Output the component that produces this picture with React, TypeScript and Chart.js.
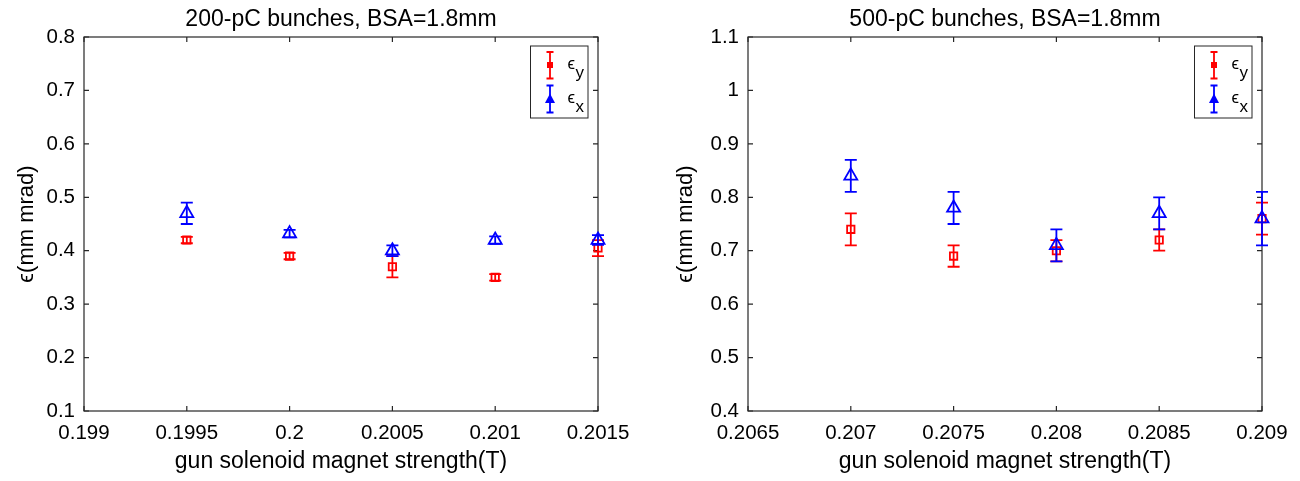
import React, { useEffect, useRef } from "react";
import { Chart, registerables } from "chart.js";

Chart.register(...registerables);

// ---------- data ----------
const titleLeft = "200-pC bunches, BSA=1.8mm";
const titleRight = "500-pC bunches, BSA=1.8mm";
const xTitle = "gun solenoid magnet strength(T)";
const yTitle = "\u03F5(mm mrad)";

const xLeft = [0.1995, 0.2, 0.2005, 0.201, 0.2015];
const eyLeft = [0.42, 0.39, 0.37, 0.35, 0.405];
const eyLeftErr = [0.006, 0.006, 0.02, 0.006, 0.015];
const exLeft = [0.47, 0.432, 0.4, 0.42, 0.42];
const exLeftErr = [0.02, 0.007, 0.01, 0.007, 0.009];
const xTicksLeft = [0.199, 0.1995, 0.2, 0.2005, 0.201, 0.2015];
const yTicksLeft = [0.1, 0.2, 0.3, 0.4, 0.5, 0.6, 0.7, 0.8];

const xRight = [0.207, 0.2075, 0.208, 0.2085, 0.209];
const eyRight = [0.74, 0.69, 0.7, 0.72, 0.76];
const eyRightErr = [0.03, 0.02, 0.02, 0.02, 0.03];
const exRight = [0.84, 0.78, 0.71, 0.77, 0.76];
const exRightErr = [0.03, 0.03, 0.03, 0.03, 0.05];
const xTicksRight = [0.2065, 0.207, 0.2075, 0.208, 0.2085, 0.209];
const yTicksRight = [0.4, 0.5, 0.6, 0.7, 0.8, 0.9, 1, 1.1];

const legendLabels = ["y", "x"];

// ---------- styles ----------
const RED = "#ff0000";
const BLUE = "#0000ff";
const AXIS = "#262626";
const FONT = "'Liberation Sans', Arial, Helvetica, sans-serif";

function fmt(v: number): string {
  return String(parseFloat(Number(v).toFixed(5)));
}

type PanelProps = {
  title: string;
  xs: number[];
  ey: number[];
  eyErr: number[];
  ex: number[];
  exErr: number[];
  xTicks: number[];
  yTicks: number[];
  yAxisWidth: number;
  padRight: number;
  yTitlePad: number;
};

function Panel(p: PanelProps) {
  const ref = useRef<HTMLCanvasElement>(null);

  useEffect(() => {
    const canvas = ref.current;
    if (!canvas) return;
    const errs = [p.eyErr, p.exErr];
    const vals = [p.ey, p.ex];
    const colors = [RED, BLUE];

    const framePlugin = {
      id: "frame",
      beforeDatasetsDraw(chart: any) {
        const { ctx, chartArea, scales } = chart;
        const { left, right, top, bottom } = chartArea;
        ctx.save();
        ctx.strokeStyle = AXIS;
        ctx.lineWidth = 1.2;
        ctx.strokeRect(left, top, right - left, bottom - top);
        ctx.beginPath();
        const tl = 5;
        p.xTicks.forEach((v) => {
          const px = scales.x.getPixelForValue(v);
          ctx.moveTo(px, bottom);
          ctx.lineTo(px, bottom - tl);
          ctx.moveTo(px, top);
          ctx.lineTo(px, top + tl);
        });
        p.yTicks.forEach((v) => {
          const py = scales.y.getPixelForValue(v);
          ctx.moveTo(left, py);
          ctx.lineTo(left + tl, py);
          ctx.moveTo(right, py);
          ctx.lineTo(right - tl, py);
        });
        ctx.stroke();
        ctx.restore();
      },
    };

    const errorPlugin = {
      id: "errorBars",
      beforeDatasetDraw(chart: any, args: any) {
        const i = args.index;
        const { ctx, scales } = chart;
        ctx.save();
        ctx.strokeStyle = colors[i];
        ctx.lineWidth = 1.8;
        ctx.beginPath();
        const cap = 6;
        p.xs.forEach((xv, k) => {
          const px = scales.x.getPixelForValue(xv);
          const t = scales.y.getPixelForValue(vals[i][k] + errs[i][k]);
          const b = scales.y.getPixelForValue(vals[i][k] - errs[i][k]);
          ctx.moveTo(px, t);
          ctx.lineTo(px, b);
          ctx.moveTo(px - cap, t);
          ctx.lineTo(px + cap, t);
          ctx.moveTo(px - cap, b);
          ctx.lineTo(px + cap, b);
        });
        ctx.stroke();
        ctx.restore();
      },
    };

    const legendPlugin = {
      id: "errLegend",
      afterDraw(chart: any) {
        const { ctx, chartArea } = chart;
        const w = 57.5;
        const h = 72;
        const bx = chartArea.right - 10 - w;
        const by = chartArea.top + 9;
        ctx.save();
        ctx.fillStyle = "#ffffff";
        ctx.fillRect(bx, by, w, h);
        ctx.strokeStyle = AXIS;
        ctx.lineWidth = 1;
        ctx.strokeRect(bx, by, w, h);
        const ix = bx + 19.5;
        // red item
        ctx.strokeStyle = RED;
        ctx.lineWidth = 1.8;
        ctx.beginPath();
        ctx.moveTo(ix, by + 6);
        ctx.lineTo(ix, by + 32.5);
        ctx.moveTo(ix - 3.5, by + 6);
        ctx.lineTo(ix + 3.5, by + 6);
        ctx.moveTo(ix - 3.5, by + 32.5);
        ctx.lineTo(ix + 3.5, by + 32.5);
        ctx.stroke();
        ctx.fillStyle = RED;
        ctx.fillRect(ix - 3, by + 16, 6, 6);
        // blue item
        ctx.strokeStyle = BLUE;
        ctx.beginPath();
        ctx.moveTo(ix, by + 39.5);
        ctx.lineTo(ix, by + 66.5);
        ctx.moveTo(ix - 3.5, by + 39.5);
        ctx.lineTo(ix + 3.5, by + 39.5);
        ctx.moveTo(ix - 3.5, by + 66.5);
        ctx.lineTo(ix + 3.5, by + 66.5);
        ctx.stroke();
        ctx.fillStyle = BLUE;
        ctx.beginPath();
        ctx.moveTo(ix, by + 47.5);
        ctx.lineTo(ix + 5, by + 57);
        ctx.lineTo(ix - 5, by + 57);
        ctx.closePath();
        ctx.fill();
        // text
        ctx.fillStyle = "#000000";
        ctx.textBaseline = "alphabetic";
        ctx.textAlign = "left";
        ctx.font = `17px ${FONT}`;
        ctx.fillText("\u03F5", bx + 37, by + 22.5);
        ctx.fillText(legendLabels[0], bx + 45, by + 32);
        ctx.fillText("\u03F5", bx + 37, by + 56.5);
        ctx.fillText(legendLabels[1], bx + 45, by + 65.5);
        ctx.restore();
      },
    };

    const chart = new Chart(canvas, {
      type: "scatter",
      data: {
        datasets: [
          {
            label: "\u03F5y",
            data: p.xs.map((x, k) => ({ x, y: p.ey[k] })),
            pointStyle: "rect",
            pointRadius: 5.2,
            pointBorderWidth: 1.8,
            pointBorderColor: RED,
            pointBackgroundColor: "rgba(0,0,0,0)",
            borderColor: RED,
            showLine: false,
            clip: false,
            order: 1,
          } as any,
          {
            label: "\u03F5x",
            data: p.xs.map((x, k) => ({ x, y: p.ex[k] })),
            pointStyle: "triangle",
            pointRadius: 7.5,
            pointBorderWidth: 1.8,
            pointBorderColor: BLUE,
            pointBackgroundColor: "rgba(0,0,0,0)",
            borderColor: BLUE,
            showLine: false,
            clip: false,
            order: 0,
          } as any,
        ],
      },
      options: {
        responsive: false,
        animation: false,
        devicePixelRatio: 1,
        layout: { padding: { left: 0, right: p.padRight, top: 0, bottom: 0 } },
        plugins: {
          legend: { display: false },
          tooltip: { enabled: false },
          title: {
            display: true,
            text: p.title,
            fullSize: false,
            color: "#000000",
            font: { family: FONT, size: 23, weight: "normal" },
            padding: { top: 5.4, bottom: 4 },
          },
        },
        scales: {
          x: {
            type: "linear",
            min: p.xTicks[0],
            max: p.xTicks[p.xTicks.length - 1],
            grid: { display: false, drawTicks: false },
            border: { display: false },
            afterBuildTicks: (s: any) => {
              s.ticks = p.xTicks.map((v) => ({ value: v }));
            },
            afterFit: (s: any) => {
              s.height = 70;
            },
            ticks: {
              autoSkip: false,
              maxRotation: 0,
              padding: 9.7,
              color: "#000000",
              font: { family: FONT, size: 20.5 },
              callback: (v: any) => fmt(v),
            },
            title: {
              display: true,
              text: xTitle,
              color: "#000000",
              font: { family: FONT, size: 23 },
              padding: { top: 0, bottom: 5.2 },
            },
          },
          y: {
            type: "linear",
            min: p.yTicks[0],
            max: p.yTicks[p.yTicks.length - 1],
            grid: { display: false, drawTicks: false },
            border: { display: false },
            afterBuildTicks: (s: any) => {
              s.ticks = p.yTicks.map((v) => ({ value: v }));
            },
            afterFit: (s: any) => {
              s.width = p.yAxisWidth;
            },
            ticks: {
              autoSkip: false,
              padding: 9,
              color: "#000000",
              font: { family: FONT, size: 20.5 },
              callback: (v: any) => fmt(v),
            },
            title: {
              display: true,
              text: yTitle,
              color: "#000000",
              font: { family: FONT, size: 22 },
              padding: { top: p.yTitlePad, bottom: 0 },
            },
          },
        },
      } as any,
      plugins: [framePlugin, errorPlugin, legendPlugin],
    });
    return () => chart.destroy();
  }, []);

  return (
    <canvas
      ref={ref}
      width={650}
      height={481}
      style={{ display: "block", width: 650, height: 481 }}
    />
  );
}

export default function App() {
  return (
    <div
      style={{
        position: "absolute",
        left: 0,
        top: 0,
        width: 1300,
        height: 481,
        display: "flex",
        background: "#ffffff",
      }}
    >
      <Panel
        title={titleLeft}
        xs={xLeft}
        ey={eyLeft}
        eyErr={eyLeftErr}
        ex={exLeft}
        exErr={exLeftErr}
        xTicks={xTicksLeft}
        yTicks={yTicksLeft}
        yAxisWidth={84}
        padRight={52}
        yTitlePad={13.8}
      />
      <Panel
        title={titleRight}
        xs={xRight}
        ey={eyRight}
        eyErr={eyRightErr}
        ex={exRight}
        exErr={exRightErr}
        xTicks={xTicksRight}
        yTicks={yTicksRight}
        yAxisWidth={98}
        padRight={38}
        yTitlePad={22.8}
      />
    </div>
  );
}
